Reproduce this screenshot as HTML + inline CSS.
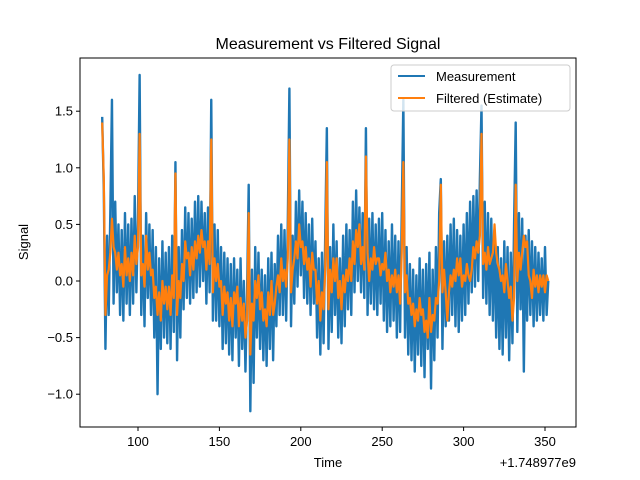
<!DOCTYPE html>
<html><head><meta charset="utf-8"><style>
body{margin:0;background:#fff;}
svg{display:block;font-family:"Liberation Sans","DejaVu Sans",sans-serif;}
</style></head><body>
<svg id="chart" width="640" height="480" xmlns="http://www.w3.org/2000/svg">
<rect width="640" height="480" fill="#fff"/>
<text x="328" y="49" font-size="16" text-anchor="middle" fill="#000">Measurement vs Filtered Signal</text>
<g id="plot"></g>
<rect x="80" y="58" width="496" height="369" fill="none" stroke="#000" stroke-width="1"/>
<g id="axes"></g>
<text x="328" y="467" font-size="13" text-anchor="middle">Time</text>
<text x="576" y="467" font-size="13" text-anchor="end">+1.748977e9</text>
<text transform="translate(28,242) rotate(-90)" font-size="13" text-anchor="middle">Signal</text>
<g>
<rect x="391" y="65" width="179" height="46" rx="3" fill="#fff" fill-opacity="0.8" stroke="#ccc"/>
<line x1="398" y1="76" x2="425" y2="76" stroke="#1f77b4" stroke-width="2"/>
<text x="436" y="81" font-size="13">Measurement</text>
<line x1="398" y1="98" x2="425" y2="98" stroke="#ff7f0e" stroke-width="2"/>
<text x="436" y="103" font-size="13">Filtered (Estimate)</text>
</g>
</svg>
<script>
const measStart = 78, measStep = 1;
const measurement = [1.45,0.8,-0.6,0.4,-0.3,0.6,1.6,-0.2,0.7,-0.1,
0.5,-0.3,0.45,-0.35,0.6,-0.2,0.5,-0.3,0.55,-0.2,
0.75,-0.1,0.55,1.82,-0.3,0.4,-0.4,0.6,-0.15,0.5,
-0.3,0.45,-0.5,0.3,-1.0,0.2,-0.6,0.35,-0.5,0.25,
-0.55,0.3,-0.6,0.4,-0.45,1.05,-0.7,0.3,-0.5,0.45,
-0.25,0.65,-0.15,0.6,-0.2,0.55,-0.15,0.7,-0.1,0.75,
-0.05,0.7,0.0,0.6,-0.2,0.65,-0.1,1.6,-0.35,0.5,
-0.35,0.45,-0.4,0.3,-0.6,0.25,-0.55,0.2,-0.65,0.15,
-0.7,0.2,-0.5,0.1,-0.75,0.2,-0.6,0.0,-0.8,-0.1,
0.85,-1.15,0.1,-0.9,0.3,-0.5,0.25,-0.6,0.1,-0.7,
0.05,-0.75,0.2,-0.6,0.25,-0.7,0.15,-0.4,0.4,-0.3,
0.5,-0.3,0.45,-0.35,0.5,1.7,-0.4,0.4,-0.2,0.7,
-0.05,0.8,0.05,0.7,-0.15,0.6,-0.2,0.5,-0.3,0.55,
-0.2,0.35,-0.5,0.2,-0.65,0.25,-0.55,0.4,1.35,-0.6,
0.3,-0.45,0.5,-0.3,0.35,-0.5,0.2,-0.55,0.4,-0.4,
0.5,-0.25,0.45,-0.3,0.7,-0.1,0.8,0.0,0.65,-0.1,
0.6,-0.15,1.35,-0.3,0.55,-0.2,0.6,-0.25,0.5,-0.3,
0.55,-0.2,0.6,-0.35,0.45,-0.45,0.35,-0.4,0.5,-0.35,
0.4,-0.5,0.35,-0.45,0.6,1.6,-0.5,0.3,-0.65,0.15,
-0.7,0.1,-0.8,0.05,-0.65,0.2,-0.75,0.1,-0.85,0.15,
-0.6,0.25,-0.95,0.1,-0.7,0.3,-0.5,0.6,0.9,-0.6,
0.35,-0.4,0.4,-0.35,0.5,-0.3,0.55,-0.4,0.45,-0.45,
0.4,-0.35,0.5,-0.3,0.6,-0.2,0.7,-0.1,0.75,-0.05,
0.8,0.0,0.9,1.55,-0.15,0.7,-0.2,0.6,-0.3,0.55,
-0.35,0.45,-0.5,0.3,-0.6,0.2,-0.65,0.35,-0.5,0.3,
-0.7,0.25,-0.55,0.5,1.4,-0.45,0.6,-0.25,0.55,-0.8,
0.4,-0.35,0.45,-0.3,0.35,-0.4,0.3,-0.35,0.25,-0.3,
0.2,-0.35,0.3,-0.3,0.0];
const filtStart = 78, filtStep = 1;
const filtered = [1.4,0.9,-0.3,0.05,0.1,0.25,0.55,0.3,0.25,0.1,
0.25,0.05,0.15,-0.05,0.3,0.05,0.2,0.0,0.25,0.05,
0.4,0.15,0.3,1.3,0.05,0.15,-0.05,0.4,0.1,0.25,
0.05,0.1,-0.15,-0.05,-0.3,-0.1,-0.35,0.0,-0.2,-0.05,
-0.25,-0.05,-0.3,0.05,-0.15,0.95,-0.3,0.0,-0.15,0.15,
0.0,0.35,0.2,0.25,0.05,0.3,0.1,0.35,0.2,0.4,
0.25,0.45,0.3,0.35,0.1,0.35,0.15,1.25,-0.1,0.2,
0.0,0.15,-0.05,0.0,-0.3,-0.05,-0.2,-0.1,-0.35,-0.15,
-0.4,-0.1,-0.2,-0.05,-0.4,-0.15,-0.35,-0.2,-0.5,-0.35,
0.6,-0.65,-0.2,-0.35,0.0,-0.15,0.05,-0.25,-0.1,-0.35,
-0.25,-0.4,-0.1,-0.3,0.0,-0.3,-0.2,-0.05,0.05,-0.1,
0.2,0.0,0.1,-0.05,0.2,1.25,-0.1,0.1,0.2,0.35,
0.2,0.5,0.3,0.35,0.15,0.3,0.1,0.2,-0.05,0.25,
0.1,0.1,-0.2,0.0,-0.35,-0.1,-0.25,0.1,1.05,-0.25,
0.1,-0.1,0.2,0.0,0.2,-0.15,0.0,-0.25,0.05,-0.1,
0.1,0.0,0.2,0.0,0.35,0.15,0.45,0.3,0.5,0.15,
0.3,0.1,1.1,0.25,0.0,0.2,0.1,0.3,0.15,0.2,
0.2,0.05,0.15,0.1,0.25,0.0,0.1,-0.1,0.05,-0.05,
0.1,-0.1,0.05,-0.2,0.25,1.05,-0.1,0.05,-0.2,-0.15,
-0.3,-0.2,-0.4,-0.25,-0.35,-0.15,-0.3,-0.25,-0.45,-0.35,
-0.5,-0.15,-0.45,-0.3,-0.35,-0.15,-0.2,0.0,0.85,-0.1,
0.1,-0.1,-0.35,-0.1,0.05,-0.05,0.1,0.0,0.2,0.05,
0.2,-0.05,0.05,0.0,0.15,0.05,0.0,0.1,0.3,0.2,
0.35,0.25,0.4,1.3,0.15,0.25,0.1,0.3,0.15,0.2,
0.25,0.5,0.25,0.15,0.1,0.0,0.05,-0.1,0.15,0.0,
-0.15,-0.05,-0.35,-0.15,0.85,0.0,0.25,0.1,0.25,0.4,
0.3,0.35,0.05,0.0,-0.15,0.1,-0.05,0.05,-0.1,0.05,
-0.05,0.05,-0.1,0.05,0.0];
const xTicks = [100,150,200,250,300,350];
const yTicks = [-1.0,-0.5,0.0,0.5,1.0,1.5];

const NS = "http://www.w3.org/2000/svg";
function xScale(t){ return 138 + (t - 100) * 1.628; }
function yScale(v){ return 281 - v * 113.2; }
const plot = document.getElementById('plot');
function drawSeries(vals, start, step, color, width, name){
  let d = '';
  vals.forEach((v,i)=>{ d += (i? 'L':'M') + xScale(start + i*step).toFixed(2) + ' ' + yScale(v).toFixed(2); });
  const p = document.createElementNS(NS,'path');
  p.setAttribute('d', d);
  p.setAttribute('fill','none');
  p.setAttribute('stroke', color);
  p.setAttribute('stroke-width', width);
  p.setAttribute('stroke-linejoin','round');
  
  
  plot.appendChild(p);
}
drawSeries(measurement, measStart, measStep, '#1f77b4', '2.4', 'measurement-line');
drawSeries(filtered, filtStart, filtStep, '#ff7f0e', '2.2', 'filtered-line');

const axes = document.getElementById('axes');
xTicks.forEach(t=>{
  const x = xScale(t);
  const l = document.createElementNS(NS,'line');
  l.setAttribute('x1',x); l.setAttribute('x2',x); l.setAttribute('y1',427); l.setAttribute('y2',431);
  l.setAttribute('stroke','#000');
  
  
  axes.appendChild(l);
  const tx = document.createElementNS(NS,'text');
  tx.setAttribute('x',x); tx.setAttribute('y',446); tx.setAttribute('font-size','13'); tx.setAttribute('text-anchor','middle');
  tx.textContent = t;
  
  
  axes.appendChild(tx);
});
yTicks.forEach(v=>{
  const y = yScale(v);
  const l = document.createElementNS(NS,'line');
  l.setAttribute('x1',76); l.setAttribute('x2',80); l.setAttribute('y1',y); l.setAttribute('y2',y);
  l.setAttribute('stroke','#000');
  
  
  axes.appendChild(l);
  const tx = document.createElementNS(NS,'text');
  tx.setAttribute('x',73); tx.setAttribute('y',y+4.5); tx.setAttribute('font-size','13'); tx.setAttribute('text-anchor','end');
  tx.textContent = (v<0?'\u2212':'') + Math.abs(v).toFixed(1);
  
  
  axes.appendChild(tx);
});
</script>
</body></html>
